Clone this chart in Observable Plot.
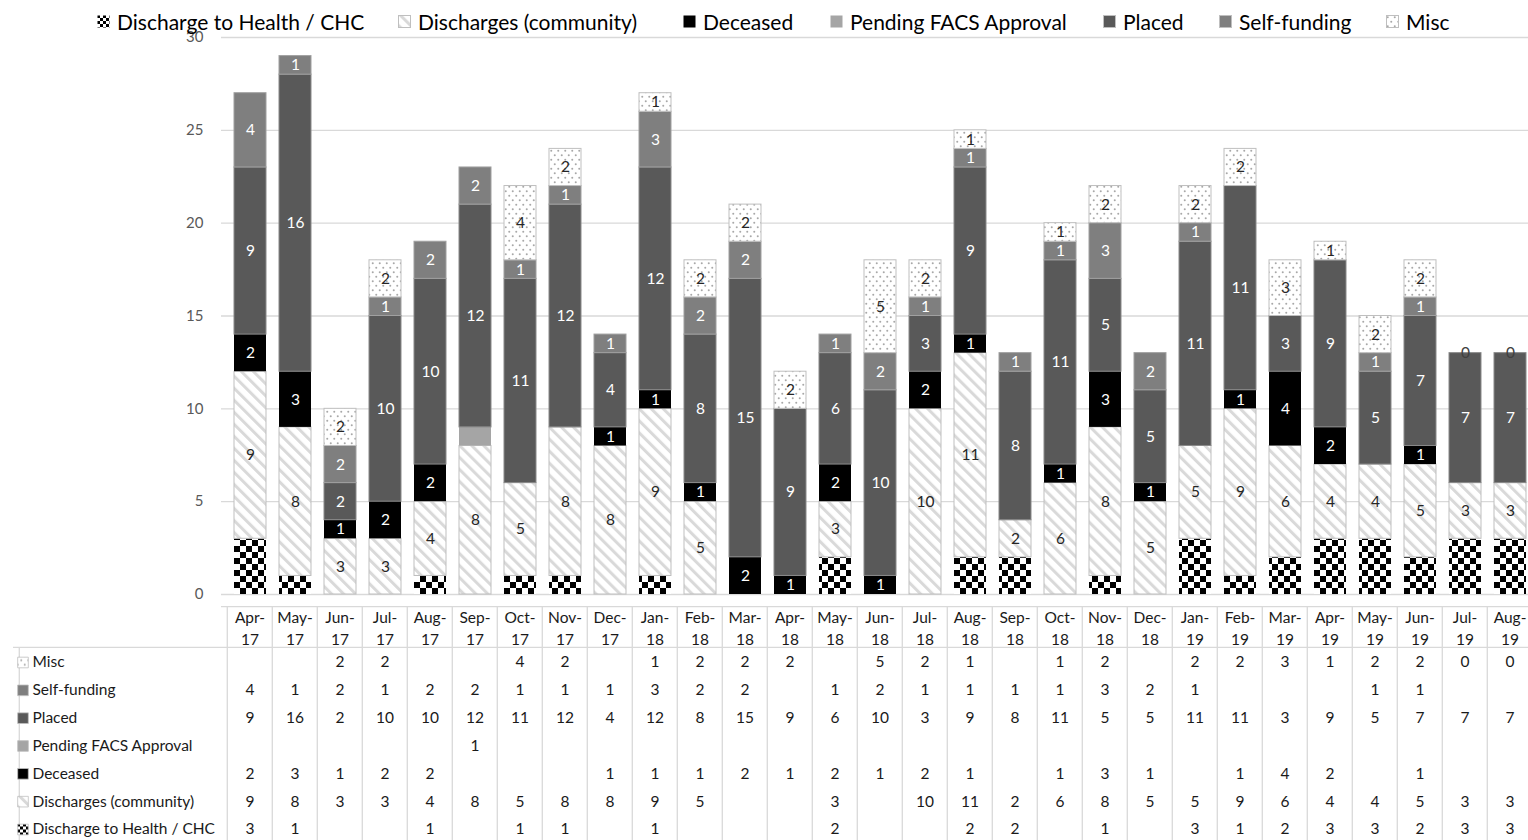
<!DOCTYPE html>
<html>
<head>
<meta charset="utf-8">
<script src="https://cdn.jsdelivr.net/npm/d3@7"></script>
<script src="https://cdn.jsdelivr.net/npm/@observablehq/plot@0.6"></script>
<style>
  html, body { margin: 0; padding: 0; background: #fff; overflow: hidden; }
  #wrap { position: relative; width: 1540px; font-family: Lato, "Open Sans", sans-serif; }
  #legend { position: absolute; left: 0; top: 0; width: 1540px; height: 40px; z-index: 2; pointer-events: none; }
  .li { position: absolute; top: 8px; height: 26px; display: flex; align-items: center; font-size: 21px; color: #000; white-space: nowrap; }
  .li svg { margin-right: 7px; }
</style>
</head>
<body>
<svg width="0" height="0" style="position:absolute">
  <defs>
    <pattern id="pChk" width="12" height="12" patternUnits="userSpaceOnUse">
      <rect width="12" height="12" fill="#fff"/>
      <rect x="0" y="0" width="6" height="6" fill="#000"/>
      <rect x="6" y="6" width="6" height="6" fill="#000"/>
    </pattern>
    <pattern id="pChkS" width="6" height="6" patternUnits="userSpaceOnUse">
      <rect width="6" height="6" fill="#fff"/>
      <rect x="0" y="0" width="3" height="3" fill="#000"/>
      <rect x="3" y="3" width="3" height="3" fill="#000"/>
    </pattern>
    <pattern id="pHatch" width="8.5" height="8.5" patternUnits="userSpaceOnUse" patternTransform="rotate(-45)">
      <rect width="8.5" height="8.5" fill="#fff"/>
      <rect x="0" y="0" width="3" height="8.5" fill="#d9d9d9"/>
    </pattern>
    <pattern id="pDots" width="7" height="9" patternUnits="userSpaceOnUse">
      <rect width="7" height="9" fill="#fff"/>
      <circle cx="1.75" cy="2.25" r="1" fill="#a8a8a8"/>
      <circle cx="5.25" cy="6.75" r="1" fill="#a8a8a8"/>
    </pattern>
  </defs>
</svg>
<div id="wrap">
  <div id="legend"></div>
  <div id="chart"></div>
  <div id="table"></div>
</div>
<script>
// ---------- data ----------
const months = ["Apr-17","May-17","Jun-17","Jul-17","Aug-17","Sep-17","Oct-17","Nov-17","Dec-17",
  "Jan-18","Feb-18","Mar-18","Apr-18","May-18","Jun-18","Jul-18","Aug-18","Sep-18","Oct-18","Nov-18","Dec-18",
  "Jan-19","Feb-19","Mar-19","Apr-19","May-19","Jun-19","Jul-19","Aug-19"];
const seriesNames = ["Discharge to Health / CHC","Discharges (community)","Deceased","Pending FACS Approval","Placed","Self-funding","Misc"];
const chc         = [3,1,null,null,1,null,1,1,null, 1,null,null,null,2,null,null,2,2,null,1,null, 3,1,2,3,3,2,3,3];
const community   = [9,8,3,3,4,8,5,8,8, 9,5,null,null,3,null,10,11,2,6,8,5, 5,9,6,4,4,5,3,3];
const deceased    = [2,3,1,2,2,null,null,null,1, 1,1,2,1,2,1,2,1,null,1,3,1, null,1,4,2,null,1,null,null];
const pending     = [null,null,null,null,null,1,null,null,null, null,null,null,null,null,null,null,null,null,null,null,null, null,null,null,null,null,null,null,null];
const placed      = [9,16,2,10,10,12,11,12,4, 12,8,15,9,6,10,3,9,8,11,5,5, 11,11,3,9,5,7,7,7];
const selfFunding = [4,1,2,1,2,2,1,1,1, 3,2,2,null,1,2,1,1,1,1,3,2, 1,null,null,null,1,1,null,null];
const misc        = [null,null,2,2,null,null,4,2,null, 1,2,2,2,null,5,2,1,null,1,2,null, 2,2,3,1,2,2,0,0];
const yTicks = [0,5,10,15,20,25,30];

// ---------- styles ----------
const fills = ["url(#pChk)","url(#pHatch)","#000000","#a5a5a5","#595959","#7f7f7f","url(#pDots)"];
const smallFills = ["url(#pChkS)","url(#pHatch)","#000000","#a5a5a5","#595959","#7f7f7f","url(#pDots)"];
const strokes = ["none","#bfbfbf","none","none","#8a8a8a","#a0a0a0","#bfbfbf"];
const labelColor = [null,"#262626","#ffffff",null,"#ffffff","#ffffff","#262626"];
const FONT = 'Lato, "Open Sans", sans-serif';

const seriesValues = [chc, community, deceased, pending, placed, selfFunding, misc];
const long = [];
seriesNames.forEach((s, si) => months.forEach((m, mi) => {
  long.push({month: m, series: s, si, value: seriesValues[si][mi]});
}));
const present = long.filter(d => d.value != null);

const W = 1540, ML = 221, MR = 1.5;
const step = (W - ML - MR) / months.length;

// ---------- chart ----------
const chart = Plot.plot({
  width: W, height: 600,
  marginTop: 37, marginBottom: 6, marginLeft: ML, marginRight: MR,
  style: {fontFamily: FONT, fontSize: "15px", background: "transparent", maxWidth: "none", overflow: "visible"},
  x: {type: "band", domain: months, paddingInner: 0.28, paddingOuter: 0.14, axis: null},
  y: {domain: [0, 30], axis: null},
  color: {domain: seriesNames, range: fills},
  marks: [
    Plot.gridY(yTicks, {stroke: "#d9d9d9", strokeOpacity: 1, strokeWidth: 1.3}),
    Plot.axisY(yTicks, {tickSize: 0, tickPadding: 18, fontSize: 15, color: "#595959", label: null}),
    Plot.barY(present.filter(d => d.value > 0), {
      x: "month", y: "value", fill: "series", z: "series", order: seriesNames,
      stroke: d => strokes[d.si], strokeWidth: 1
    }),
    Plot.text(present, Plot.stackY({
      x: "month", y: "value", z: "series", order: seriesNames,
      text: d => labelColor[d.si] === "#ffffff" ? String(d.value) : "",
      fill: "#ffffff", fontSize: 15.5
    })),
    Plot.text(present, Plot.stackY({
      x: "month", y: "value", z: "series", order: seriesNames,
      text: d => labelColor[d.si] === "#262626" ? String(d.value) : "",
      fill: d => d.value === 0 ? "#404040" : "#262626", fontSize: 15.5
    }))
  ]
});
document.getElementById("chart").appendChild(chart);

// ---------- data table ----------
const rowOrder = [...seriesNames].reverse();
const pitch = 27.83, row0 = 62, TH = 240;
const yTop = -row0 / pitch, yBot = (TH - row0) / pitch;
const headerTop = -2.01, headerBottom = -0.54;
const table = Plot.plot({
  width: W, height: TH,
  marginTop: 0, marginBottom: 0, marginLeft: ML, marginRight: MR,
  style: {fontFamily: FONT, fontSize: "15.5px", background: "transparent", maxWidth: "none", overflow: "visible"},
  x: {type: "band", domain: months, paddingInner: 0, paddingOuter: 0, axis: null},
  y: {domain: [yTop, yBot], range: [0, TH], axis: null},
  color: {domain: seriesNames, range: smallFills},
  marks: [
    Plot.ruleY([headerTop], {stroke: "#d9d9d9", strokeWidth: 1.3}),
    Plot.ruleY([headerBottom], {stroke: "#d9d9d9", strokeWidth: 1.3, insetLeft: -(ML - 13)}),
    Plot.ruleX(months, {x: d => d, dx: -step / 2, y1: headerTop, y2: yBot, stroke: "#d9d9d9", strokeWidth: 1.3}),
    Plot.ruleX([months[months.length - 1]], {x: d => d, dx: step / 2, y1: headerTop, y2: yBot, stroke: "#d9d9d9", strokeWidth: 1.3}),
    Plot.ruleX([months[0]], {x: d => d, dx: 13 - (ML + step / 2), y1: headerBottom, y2: yBot, stroke: "#d9d9d9", strokeWidth: 1.3}),
    Plot.text(months, {x: d => d, frameAnchor: "top", dy: 26.5, lineAnchor: "middle", text: d => d.replace("-", "-\n"), lineHeight: 1.4, fontSize: 15.5, fill: "#1a1a1a"}),
    Plot.text(present, {x: "month", y: d => rowOrder.indexOf(d.series), text: d => String(d.value), fontSize: 15.5, fill: "#1a1a1a"}),
    Plot.dot(rowOrder, {y: (d, i) => i, frameAnchor: "left", dx: 22.5 - ML, symbol: "square", r: 6, fill: d => d, stroke: "#bfbfbf", strokeWidth: 0.8}),
    Plot.text(rowOrder, {y: (d, i) => i, frameAnchor: "left", dx: 32 - ML, textAnchor: "start", text: d => d, fontSize: 15.5, fill: "#1a1a1a"})
  ]
});
document.getElementById("table").appendChild(table);

// ---------- legend ----------
const legendX = [97, 398, 683, 830, 1103, 1219, 1386];
const legend = document.getElementById("legend");
seriesNames.forEach((s, i) => {
  const item = document.createElement("div");
  item.className = "li";
  item.style.left = legendX[i] + "px";
  const sw = smallFills[i];
  const st = strokes[i] === "none" ? "none" : "#bfbfbf";
  item.innerHTML = `<svg width="13" height="13"><rect x="0.5" y="0.5" width="12" height="12" fill="${sw}" stroke="${st}" stroke-width="1"/></svg><span>${s}</span>`;
  legend.appendChild(item);
});
</script>
</body>
</html>
